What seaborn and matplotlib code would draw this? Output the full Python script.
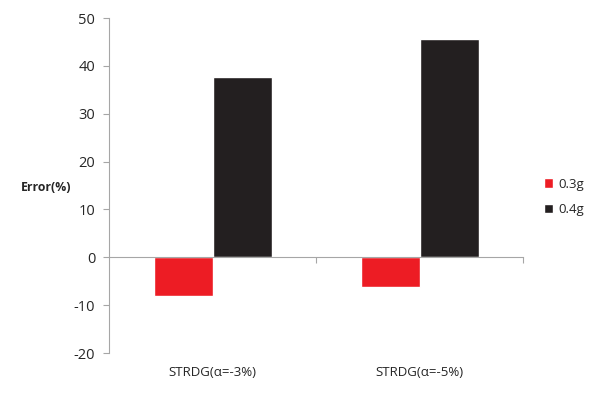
import pandas as pd
import numpy as np
import matplotlib
matplotlib.use("Agg")
import matplotlib.pyplot as plt
import seaborn as sns

categories = ["STRDG(α=-3%)", "STRDG(α=-5%)"]
series = ["0.3g", "0.4g"]
err_03 = [-8.0, -6.1]
err_04 = [37.6, 45.6]
yticks = [-20, -10, 0, 10, 20, 30, 40, 50]

df = pd.DataFrame({
    "case": categories * 2,
    "load": [series[0]] * 2 + [series[1]] * 2,
    "err": err_03 + err_04,
})

sns.set_style("white")
plt.rcParams["font.family"] = ["Open Sans", "DejaVu Sans"]
plt.rcParams["axes.unicode_minus"] = False

fig = plt.figure(figsize=(6, 3.94), dpi=100)
ax = fig.add_axes([0.182, 0.104, 0.69, 0.85])

sns.barplot(data=df, x="case", y="err", hue="load", order=categories, hue_order=series,
            palette=["#ED1C24", "#231F20"], width=0.57, saturation=1, ax=ax, legend=True)

grey = "#A6A6A6"
ax.set_xlim(-0.5, 1.5)
ax.set_ylim(-20, 50)
ax.set_yticks(yticks)
ax.tick_params(axis="y", direction="out", length=4, color=grey, labelsize=10.5, left=True, pad=6)
for s in ["top", "right"]:
    ax.spines[s].set_visible(False)
ax.spines["left"].set_color(grey)
ax.spines["bottom"].set_color(grey)
ax.spines["bottom"].set_position(("data", 0))

ax.set_xticks([0.5, 1.5])
ax.set_xticklabels([])
ax.tick_params(axis="x", direction="out", length=4, color=grey, bottom=True)
for i, c in enumerate(categories):
    ax.text(i, -24.1, c, ha="center", va="center", fontsize=9.5, clip_on=False)

ax.set_xlabel("")
ax.set_ylabel("")
fig.text(0.077, 0.525, "Error(%)", ha="center", va="center", fontsize=8.8, fontweight="bold")

ax.legend(loc="center left", bbox_to_anchor=(0.887, 0.5), bbox_transform=fig.transFigure,
          frameon=False, fontsize=9.5, handlelength=0.7, handleheight=0.7, handletextpad=0.35,
          labelspacing=0.95)

fig.savefig("out.png", dpi=100)
